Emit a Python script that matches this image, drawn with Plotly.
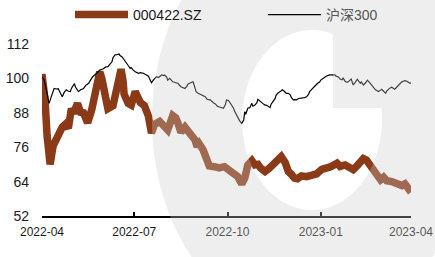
import math
import plotly.graph_objects as go

# ---------------- data ----------------
stock_name = "000422.SZ"
index_name = "沪深300"

stock_dates = [
    "2022-04-01", "2022-04-04", "2022-04-06", "2022-04-09", "2022-04-12", "2022-04-15",
    "2022-04-18", "2022-04-21", "2022-04-24", "2022-04-27", "2022-04-30", "2022-05-02",
    "2022-05-06", "2022-05-09", "2022-05-12", "2022-05-16", "2022-05-20", "2022-05-23",
    "2022-05-26", "2022-05-28", "2022-05-30", "2022-06-02", "2022-06-05", "2022-06-10",
    "2022-06-13", "2022-06-16", "2022-06-18", "2022-06-20", "2022-06-21", "2022-06-25",
    "2022-06-28", "2022-07-02", "2022-07-04", "2022-07-07", "2022-07-11", "2022-07-15",
    "2022-07-18", "2022-07-21", "2022-07-26", "2022-07-31", "2022-08-03", "2022-08-08",
    "2022-08-11", "2022-08-13", "2022-08-16", "2022-08-20", "2022-08-23", "2022-08-26",
    "2022-08-30", "2022-09-01", "2022-09-03", "2022-09-07", "2022-09-10", "2022-09-13",
    "2022-09-18", "2022-09-23", "2022-09-28", "2022-10-03", "2022-10-07", "2022-10-11",
    "2022-10-15", "2022-10-18", "2022-10-21", "2022-10-25", "2022-10-28", "2022-10-31",
    "2022-11-03", "2022-11-07", "2022-11-11", "2022-11-14", "2022-11-17", "2022-11-20",
    "2022-11-23", "2022-11-27", "2022-11-30", "2022-12-03", "2022-12-06", "2022-12-09",
    "2022-12-13", "2022-12-18", "2022-12-23", "2022-12-28", "2023-01-02", "2023-01-07",
    "2023-01-11", "2023-01-17", "2023-01-20", "2023-01-25", "2023-01-30", "2023-02-02",
    "2023-02-06", "2023-02-09", "2023-02-12", "2023-02-15", "2023-02-19", "2023-02-22",
    "2023-02-25", "2023-03-01", "2023-03-04", "2023-03-07", "2023-03-12", "2023-03-17",
    "2023-03-22", "2023-03-25", "2023-03-28", "2023-03-31",
]
stock_values = [
    101.5, 92.5, 80.0, 70.0, 76.5, 79.0,
    81.5, 83.0, 84.0, 82.6, 89.5, 87.8,
    91.3, 88.2, 88.0, 84.5, 89.0, 95.5,
    98.0, 102.3, 100.0, 93.0, 89.4, 90.4,
    95.5, 99.0, 103.2, 99.0, 94.5, 91.3,
    90.7, 95.4, 94.0, 91.6, 90.5, 86.8,
    80.9, 84.0, 85.0, 83.6, 82.0, 87.0,
    86.2, 84.5, 81.2, 83.0, 81.7, 79.5,
    78.5, 76.2, 77.2, 75.0, 71.5, 69.5,
    69.2, 68.8, 69.2, 68.0, 66.9, 65.8,
    63.2, 65.2, 69.8, 71.3, 69.8, 70.0,
    68.6, 67.5, 68.6, 69.8, 70.7, 72.0,
    72.7, 70.6, 67.5, 66.5, 65.2, 65.0,
    66.0, 65.7, 66.1, 66.7, 68.3, 68.6,
    69.2, 70.4, 69.3, 69.8, 68.8, 68.2,
    69.6, 70.9, 72.0, 71.5, 69.8, 68.4,
    66.5, 64.6, 65.5, 64.3, 64.0, 63.2,
    62.6, 63.2, 62.0, 60.3,
]

index_dates = [
    "2022-04-01", "2022-04-03", "2022-04-05", "2022-04-08", "2022-04-11", "2022-04-13",
    "2022-04-15", "2022-04-17", "2022-04-19", "2022-04-21", "2022-04-23", "2022-04-25",
    "2022-04-27", "2022-04-29", "2022-04-30", "2022-05-01", "2022-05-03", "2022-05-04",
    "2022-05-07", "2022-05-09", "2022-05-12", "2022-05-14", "2022-05-17", "2022-05-19",
    "2022-05-21", "2022-05-25", "2022-05-28", "2022-05-31", "2022-06-03", "2022-06-05",
    "2022-06-07", "2022-06-09", "2022-06-10", "2022-06-12", "2022-06-14", "2022-06-16",
    "2022-06-17", "2022-06-19", "2022-06-21", "2022-06-23", "2022-06-25", "2022-06-27",
    "2022-06-28", "2022-06-30", "2022-07-02", "2022-07-05", "2022-07-07", "2022-07-10",
    "2022-07-13", "2022-07-15", "2022-07-16", "2022-07-18", "2022-07-20", "2022-07-23",
    "2022-07-25", "2022-07-28", "2022-07-30", "2022-07-31", "2022-08-02", "2022-08-03",
    "2022-08-05", "2022-08-06", "2022-08-08", "2022-08-12", "2022-08-13", "2022-08-16",
    "2022-08-18", "2022-08-20", "2022-08-22", "2022-08-23", "2022-08-25", "2022-08-28",
    "2022-08-29", "2022-08-31", "2022-09-02", "2022-09-05", "2022-09-07", "2022-09-09",
    "2022-09-11", "2022-09-14", "2022-09-17", "2022-09-19", "2022-09-21", "2022-09-23",
    "2022-09-27", "2022-09-29", "2022-09-30", "2022-10-02", "2022-10-03", "2022-10-05",
    "2022-10-07", "2022-10-08", "2022-10-10", "2022-10-11", "2022-10-13", "2022-10-15",
    "2022-10-17", "2022-10-18", "2022-10-19", "2022-10-21", "2022-10-23", "2022-10-25",
    "2022-10-26", "2022-10-28", "2022-10-30", "2022-10-31", "2022-11-02", "2022-11-03",
    "2022-11-05", "2022-11-07", "2022-11-08", "2022-11-10", "2022-11-12", "2022-11-13",
    "2022-11-15", "2022-11-17", "2022-11-18", "2022-11-20", "2022-11-22", "2022-11-23",
    "2022-11-24", "2022-11-26", "2022-11-27", "2022-11-28", "2022-11-30", "2022-12-02",
    "2022-12-03", "2022-12-05", "2022-12-06", "2022-12-08", "2022-12-10", "2022-12-12",
    "2022-12-13", "2022-12-15", "2022-12-16", "2022-12-18", "2022-12-20", "2022-12-21",
    "2022-12-23", "2022-12-25", "2022-12-27", "2022-12-29", "2022-12-31", "2023-01-01",
    "2023-01-03", "2023-01-05", "2023-01-07", "2023-01-10", "2023-01-13", "2023-01-15",
    "2023-01-16", "2023-01-18", "2023-01-20", "2023-01-22", "2023-01-23", "2023-01-25",
    "2023-01-27", "2023-01-28", "2023-01-31", "2023-02-02", "2023-02-04", "2023-02-06",
    "2023-02-07", "2023-02-09", "2023-02-10", "2023-02-12", "2023-02-14", "2023-02-16",
    "2023-02-18", "2023-02-20", "2023-02-22", "2023-02-24", "2023-02-26", "2023-02-27",
    "2023-03-01", "2023-03-02", "2023-03-04", "2023-03-06", "2023-03-07", "2023-03-09",
    "2023-03-10", "2023-03-12", "2023-03-14", "2023-03-15", "2023-03-17", "2023-03-19",
    "2023-03-20", "2023-03-22", "2023-03-24", "2023-03-25", "2023-03-27", "2023-03-28",
    "2023-03-30", "2023-03-31",
]
index_values = [
    100.6, 99.5, 96.5, 91.3, 94.5, 96.5,
    96.3, 96.4, 95.0, 93.6, 95.2, 96.0,
    95.5, 95.4, 96.5, 97.0, 98.2, 97.0,
    95.4, 96.0, 96.5, 97.5, 98.3, 99.5,
    100.6, 101.8, 102.9, 103.3, 104.0, 104.1,
    105.0, 105.8, 107.2, 108.2, 108.3, 108.5,
    108.0, 107.5, 106.5, 105.3, 104.5, 103.5,
    103.8, 102.9, 102.3, 101.8, 102.0, 101.8,
    101.2, 100.8, 100.0, 98.5, 99.5, 100.6,
    100.3, 101.2, 101.0, 101.2, 100.5, 99.4,
    100.0, 99.5, 98.8, 98.4, 98.3, 97.1,
    96.8, 96.5, 97.3, 98.0, 98.4, 98.8,
    97.8, 95.4, 94.8, 94.2, 93.8, 93.6,
    92.7, 92.5, 91.5, 91.1, 90.3, 90.0,
    89.6, 91.0, 92.5, 92.3, 91.8, 90.5,
    89.6, 88.5, 87.2, 86.3, 85.2, 84.3,
    85.5, 88.4, 87.5, 89.6, 89.8, 91.3,
    90.3, 90.7, 91.5, 92.7, 92.0, 91.9,
    91.2, 90.7, 90.7, 90.3, 89.8, 91.0,
    91.9, 93.0, 94.2, 95.0, 95.4, 95.8,
    96.0, 95.5, 95.2, 94.8, 94.8, 94.2,
    93.3, 92.5, 92.6, 92.5, 93.0, 93.1,
    93.0, 93.2, 93.3, 93.6, 94.5, 95.4,
    96.2, 97.1, 97.6, 98.3, 98.8, 99.4,
    100.0, 100.6, 100.9, 101.2, 101.2, 101.2,
    100.8, 100.6, 99.8, 99.5, 100.2, 99.0,
    98.6, 98.8, 99.8, 97.7, 98.6, 99.7,
    99.2, 98.3, 98.8, 97.7, 98.4, 99.4,
    98.6, 97.7, 96.8, 96.0, 95.6, 95.4,
    95.9, 96.2, 95.5, 94.8, 95.6, 96.5,
    96.6, 96.9, 96.5, 96.2, 97.0, 97.7,
    98.2, 98.8, 99.1, 99.2, 99.0, 98.8,
    98.3, 98.5,
]

tick_dates = ["2022-04-01", "2022-07-01", "2022-10-01", "2023-01-01", "2023-03-31"]
tick_labels = ["2022-04", "2022-07", "2022-10", "2023-01", "2023-04"]
y_ticks = [52, 64, 76, 88, 100, 112]

# ---------------- figure ----------------
W, H = 435, 257
ML, MT = 42, 44
PW, PH = 369, 172
MR, MB = W - ML - PW, H - MT - PH

fig = go.Figure()
fig.add_trace(go.Scatter(
    x=stock_dates, y=stock_values, mode="lines", name=stock_name,
    line=dict(color="#8B3A17", width=7.5), legend="legend",
))
fig.add_trace(go.Scatter(
    x=index_dates, y=index_values, mode="lines",
    name="<span style='color:#555'>" + index_name + "</span>",
    line=dict(color="#000000", width=1.2), legend="legend2",
))

# ---- watermark (decorative ring logo drawn over the plot), pixel geometry ----
def px_to_paper(px, py):
    return (px - ML) / PW, (MT + PH - py) / PH

def ellipse_pts(cx, cy, rx, ry, t0, t1, n):
    pts = []
    for i in range(n + 1):
        t = t0 + (t1 - t0) * i / n
        pts.append((cx + rx * math.cos(t), cy + ry * math.sin(t)))
    return pts

cx, cy = 312, 120
outer = ellipse_pts(cx, cy, 160, 208, 0, 2 * math.pi, 120)
rx_in, ry_in = 70, 90
cut_x, cut_y = 333, 108
ta = -math.asin((cy - cut_y) / ry_in)
tb = 2 * math.pi - math.acos((cut_x - cx) / rx_in)
hole = ellipse_pts(cx, cy, rx_in, ry_in, ta, tb, 90)
hole.append((cut_x, cut_y))

def to_path(pts):
    s = ""
    for i, (a, b) in enumerate(pts):
        xp, yp = px_to_paper(a, b)
        s += ("M" if i == 0 else "L") + f"{xp:.4f},{yp:.4f} "
    return s + "Z "

fig.add_shape(
    type="path", xref="paper", yref="paper",
    path=to_path(outer) + to_path(hole),
    fillcolor="rgba(204,204,204,0.33)", fillrule="evenodd",
    line=dict(width=0), layer="above",
)

font_fam = "Arial, 'Liberation Sans', 'Noto Sans CJK SC', sans-serif"
l1x, ly = px_to_paper(70, 15)
l2x, _ = px_to_paper(263, 15)
leg_common = dict(
    orientation="h", xanchor="left", y=ly, yanchor="middle",
    font=dict(size=14, color="#1a1a1a"), itemwidth=53, bgcolor="rgba(0,0,0,0)",
)
fig.update_layout(
    width=W, height=H,
    margin=dict(l=ML, r=MR, t=MT, b=MB, autoexpand=False),
    paper_bgcolor="white", plot_bgcolor="white",
    font=dict(family=font_fam, color="#1a1a1a", size=12),
    showlegend=True,
    legend=dict(x=l1x, **leg_common),
    legend2=dict(x=l2x, **leg_common),
    xaxis=dict(
        type="date", range=["2022-04-01", "2023-03-31"], automargin=False,
        tickvals=tick_dates, ticktext=tick_labels,
        showgrid=False, zeroline=False,
        showline=True, linecolor="#000000", linewidth=2,
        ticks="inside", ticklen=4, tickwidth=1.5, tickcolor="#000000",
        tickfont=dict(size=12, color="#1a1a1a"), ticklabelstandoff=4,
    ),
    yaxis=dict(
        range=[52, 112], tickvals=y_ticks, automargin=False,
        showgrid=False, zeroline=False, showline=False, ticks="",
        tickfont=dict(size=14, color="#1a1a1a"), ticklabelstandoff=12,
    ),
)

fig.write_html(
    "out.html",
    config={"displayModeBar": False},
    post_script="document.body.style.margin='0';"
                "document.documentElement.style.overflow='hidden';",
)
